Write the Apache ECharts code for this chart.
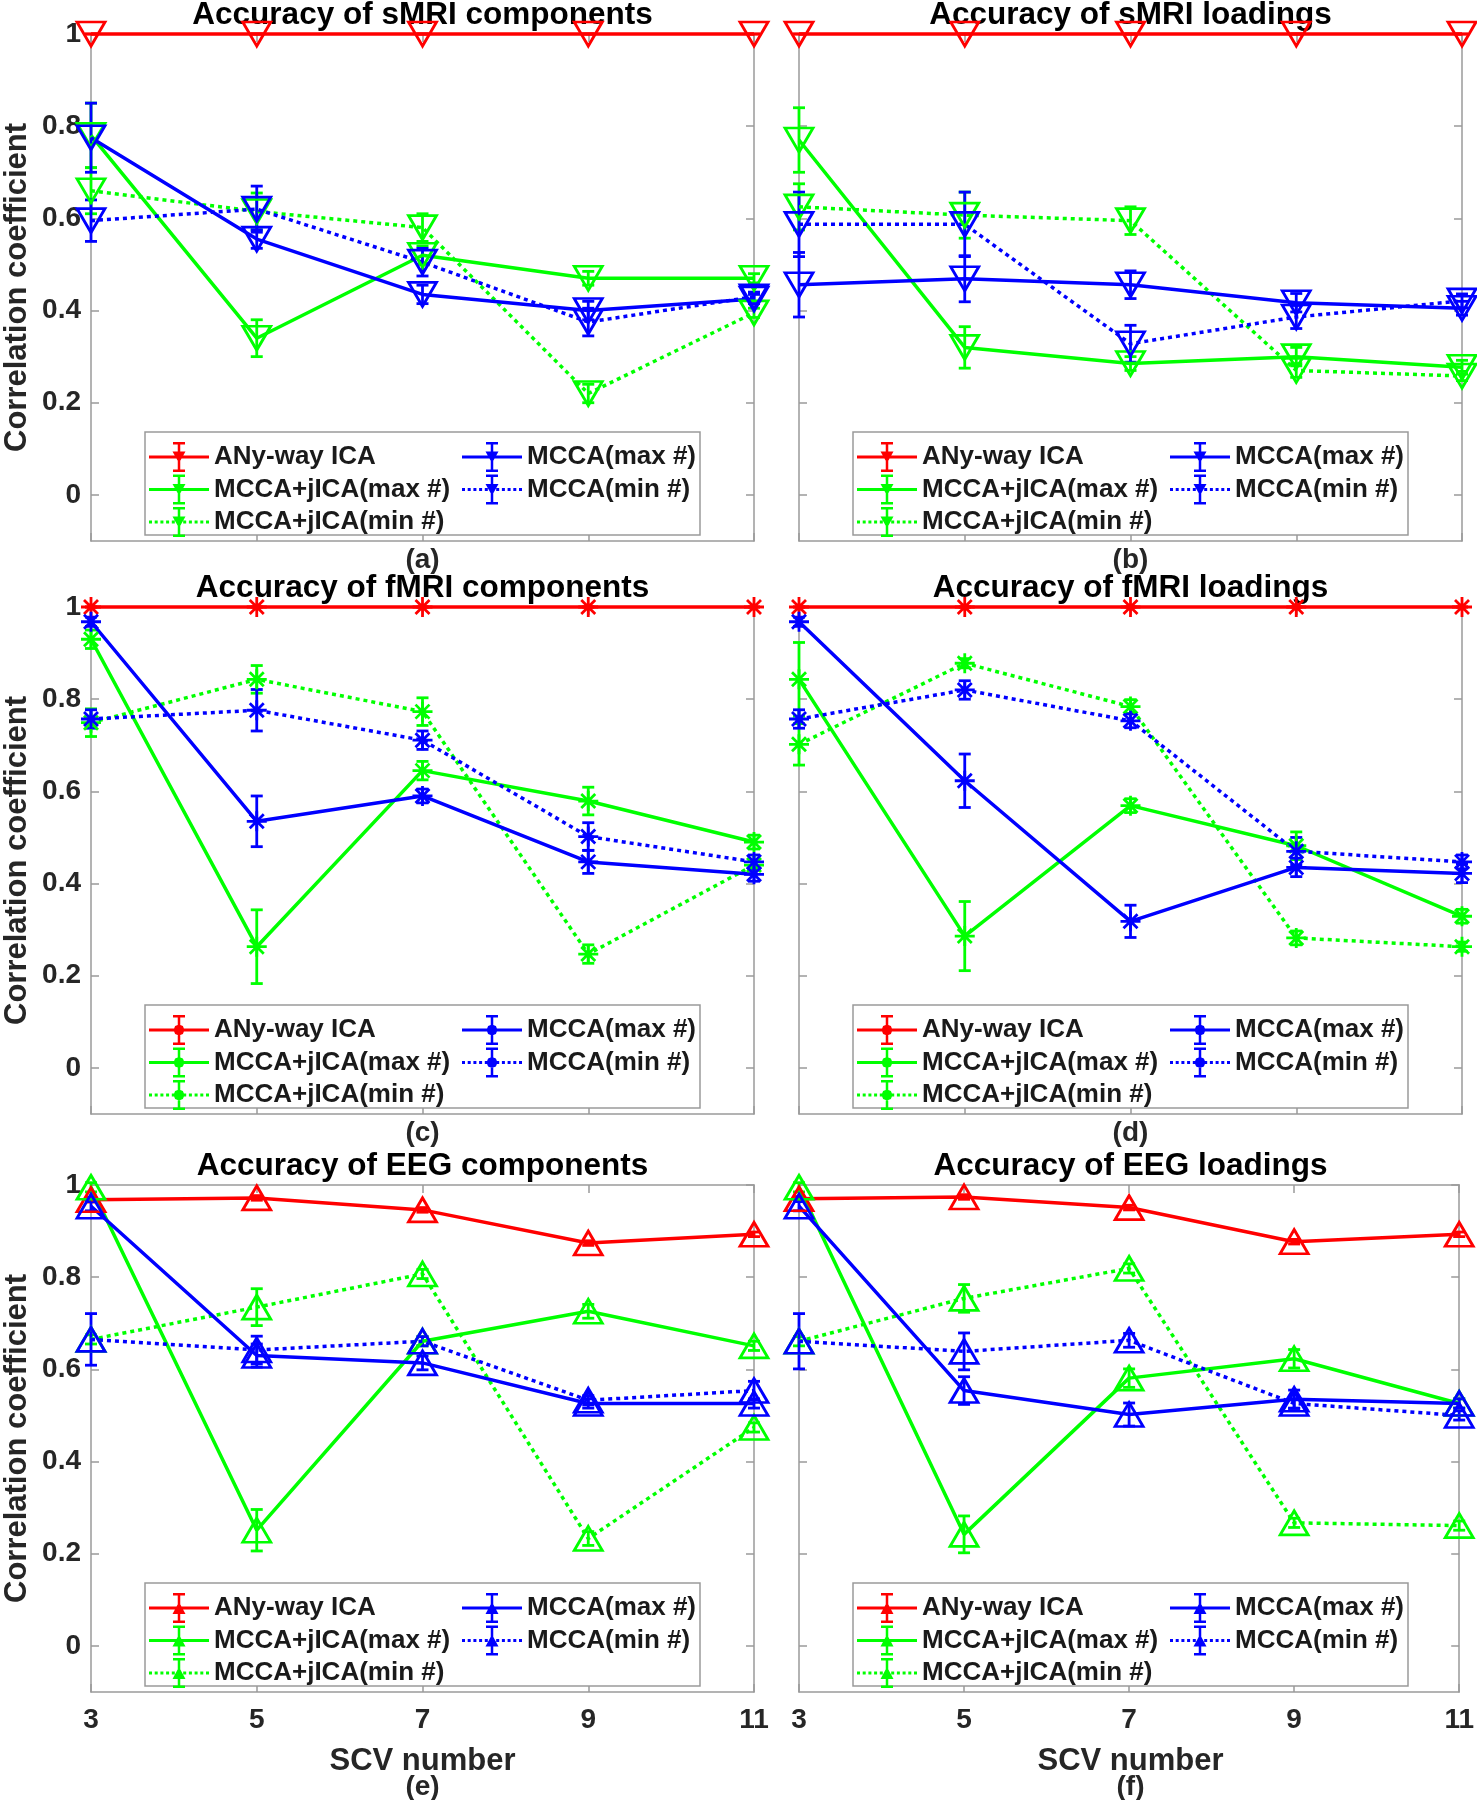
<!DOCTYPE html>
<html><head><meta charset="utf-8">
<script src="https://cdn.jsdelivr.net/npm/echarts@6/dist/echarts.min.js"></script>
<style>html,body{margin:0;padding:0;background:#fff}#c{width:1477px;height:1800px}</style>
</head><body><div id="c"></div>
<script>
// ---------- data ----------
const scv = ['3', '5', '7', '9', '11'];
const yTicks = [0, 0.2, 0.4, 0.6, 0.8, 1];
const seriesNames = ['ANy-way ICA', 'MCCA+jICA(max #)', 'MCCA+jICA(min #)', 'MCCA(max #)', 'MCCA(min #)'];
const panelTitles = ['Accuracy of sMRI components', 'Accuracy of sMRI loadings',
  'Accuracy of fMRI components', 'Accuracy of fMRI loadings',
  'Accuracy of EEG components', 'Accuracy of EEG loadings'];
const panelTags = ['(a)', '(b)', '(c)', '(d)', '(e)', '(f)'];
const xName = 'SCV number';
const yName = 'Correlation coefficient';

// (a) sMRI components
const aAny = [1, 1, 1, 1, 1];
const aAnyErr = [0, 0, 0, 0, 0];
const aJmax = [0.78, 0.34, 0.52, 0.47, 0.47];
const aJmaxErr = [0.07, 0.04, 0.02, 0.015, 0.01];
const aJmin = [0.66, 0.615, 0.58, 0.22, 0.395];
const aJminErr = [0.05, 0.04, 0.03, 0.02, 0.01];
const aMmax = [0.775, 0.555, 0.435, 0.40, 0.425];
const aMmaxErr = [0.075, 0.02, 0.02, 0.02, 0.01];
const aMmin = [0.595, 0.62, 0.505, 0.375, 0.43];
const aMminErr = [0.045, 0.05, 0.03, 0.03, 0.01];

// (b) sMRI loadings
const bAny = [1, 1, 1, 1, 1];
const bAnyErr = [0, 0, 0, 0, 0];
const bJmax = [0.77, 0.32, 0.285, 0.30, 0.277];
const bJmaxErr = [0.07, 0.045, 0.015, 0.02, 0.015];
const bJmin = [0.625, 0.607, 0.595, 0.27, 0.258];
const bJminErr = [0.05, 0.05, 0.03, 0.015, 0.01];
const bMmax = [0.456, 0.469, 0.456, 0.417, 0.405];
const bMmaxErr = [0.07, 0.05, 0.03, 0.02, 0.015];
const bMmin = [0.587, 0.587, 0.328, 0.386, 0.421];
const bMminErr = [0.07, 0.07, 0.04, 0.025, 0.015];

// (c) fMRI components
const cAny = [1, 1, 1, 1, 1];
const cAnyErr = [0, 0, 0, 0, 0];
const cJmax = [0.93, 0.263, 0.645, 0.579, 0.49];
const cJmaxErr = [0.02, 0.08, 0.02, 0.03, 0.015];
const cJmin = [0.749, 0.843, 0.773, 0.247, 0.44];
const cJminErr = [0.03, 0.03, 0.03, 0.02, 0.01];
const cMmax = [0.968, 0.535, 0.59, 0.447, 0.42];
const cMmaxErr = [0.01, 0.055, 0.015, 0.025, 0.015];
const cMmin = [0.757, 0.776, 0.711, 0.502, 0.447];
const cMminErr = [0.02, 0.045, 0.02, 0.03, 0.015];

// (d) fMRI loadings
const dAny = [1, 1, 1, 1, 1];
const dAnyErr = [0, 0, 0, 0, 0];
const dJmax = [0.843, 0.286, 0.569, 0.482, 0.329];
const dJmaxErr = [0.08, 0.075, 0.015, 0.03, 0.015];
const dJmin = [0.702, 0.878, 0.784, 0.282, 0.263];
const dJminErr = [0.045, 0.01, 0.015, 0.015, 0.01];
const dMmax = [0.968, 0.623, 0.318, 0.435, 0.422];
const dMmaxErr = [0.01, 0.058, 0.035, 0.02, 0.02];
const dMmin = [0.757, 0.82, 0.753, 0.47, 0.447];
const dMminErr = [0.02, 0.02, 0.015, 0.03, 0.015];

// (e) EEG components
const eAny = [0.968, 0.972, 0.946, 0.874, 0.893];
const eAnyErr = [0.005, 0.005, 0.005, 0.005, 0.005];
const eJmax = [0.995, 0.251, 0.661, 0.726, 0.651];
const eJmaxErr = [0.01, 0.045, 0.01, 0.015, 0.01];
const eJmin = [0.665, 0.735, 0.807, 0.233, 0.474];
const eJminErr = [0.01, 0.04, 0.01, 0.015, 0.01];
const eMmax = [0.954, 0.63, 0.614, 0.526, 0.526];
const eMmaxErr = [0.01, 0.025, 0.015, 0.01, 0.01];
const eMmin = [0.665, 0.642, 0.661, 0.533, 0.554];
const eMminErr = [0.056, 0.03, 0.01, 0.01, 0.02];

// (f) EEG loadings
const fAny = [0.97, 0.974, 0.951, 0.877, 0.893];
const fAnyErr = [0.005, 0.005, 0.005, 0.005, 0.005];
const fJmax = [0.995, 0.242, 0.581, 0.623, 0.526];
const fJmaxErr = [0.01, 0.04, 0.02, 0.02, 0.01];
const fJmin = [0.661, 0.754, 0.819, 0.267, 0.261];
const fJminErr = [0.01, 0.03, 0.01, 0.01, 0.01];
const fMmax = [0.954, 0.554, 0.502, 0.535, 0.526];
const fMmaxErr = [0.01, 0.03, 0.025, 0.02, 0.01];
const fMmin = [0.661, 0.639, 0.663, 0.526, 0.50];
const fMminErr = [0.06, 0.04, 0.015, 0.01, 0.01];

// ---------- styling / layout ----------
const FONT = '"Liberation Sans", Arial, Helvetica, sans-serif';
const colors = ['#ff0000', '#00ff00', '#00ff00', '#0000ff', '#0000ff'];
const dotted = [false, false, true, false, true];
const panelMarkers = ['down', 'down', 'star', 'star', 'up', 'up'];
const panels = [
  { vals: [aAny, aJmax, aJmin, aMmax, aMmin], errs: [aAnyErr, aJmaxErr, aJminErr, aMmaxErr, aMminErr] },
  { vals: [bAny, bJmax, bJmin, bMmax, bMmin], errs: [bAnyErr, bJmaxErr, bJminErr, bMmaxErr, bMminErr] },
  { vals: [cAny, cJmax, cJmin, cMmax, cMmin], errs: [cAnyErr, cJmaxErr, cJminErr, cMmaxErr, cMminErr] },
  { vals: [dAny, dJmax, dJmin, dMmax, dMmin], errs: [dAnyErr, dJmaxErr, dJminErr, dMmaxErr, dMminErr] },
  { vals: [eAny, eJmax, eJmin, eMmax, eMmin], errs: [eAnyErr, eJmaxErr, eJminErr, eMmaxErr, eMminErr] },
  { vals: [fAny, fJmax, fJmin, fMmax, fMmin], errs: [fAnyErr, fJmaxErr, fJminErr, fMmaxErr, fMminErr] }
];
const colLeft = [91, 799];
const rowTop = [34, 607, 1185];
const gw = 663, gh = 507;
const axisGray = '#9a9a9a';

const STAR = 'path://M10,0L10,20M0,10L20,10M3,3L17,17M17,3L3,17';

function markerOpts(m) {
  if (m === 'down') return { symbol: 'triangle', symbolRotate: 180, symbolSize: [28, 24] };
  if (m === 'up') return { symbol: 'triangle', symbolRotate: 0, symbolSize: [28, 24] };
  return { symbol: STAR, symbolRotate: 0, symbolSize: 20 };
}

function rect(x, y, w, h) {
  return `M${x},${y}L${x + w},${y}L${x + w},${y + h}L${x},${y + h}Z`;
}
function iconPath(m, isDotted) {
  let p = '';
  if (isDotted) { for (let i = 0; i <= 10; i++) p += rect(+(i * 5.7).toFixed(2), 13.5, 3, 3); }
  else p += rect(0, 13.5, 60, 3);
  p += rect(28.75, 1, 2.5, 28) + rect(24, 0, 12, 2.5) + rect(24, 27.5, 12, 2.5);
  if (m === 'down') p += 'M23.5,9.5L36.5,9.5L30,21Z';
  else if (m === 'up') p += 'M23.5,21L30,9L36.5,21Z';
  else {
    let s = '';
    for (let k = 0; k < 8; k++) {
      const a = k * Math.PI / 4;
      s += (k ? 'L' : 'M') + (30 + 5.5 * Math.cos(a)).toFixed(2) + ',' + (15 + 5.5 * Math.sin(a)).toFixed(2);
    }
    p += s + 'Z';
  }
  return 'path://' + p;
}

const grid = [], xAxis = [], yAxis = [], series = [], legend = [], graphic = [];

panels.forEach((p, i) => {
  const col = i % 2, row = Math.floor(i / 2);
  const gl = colLeft[col], gt = rowTop[row], gb = gt + gh;
  grid.push({ left: gl, top: gt, width: gw, height: gh, containLabel: false });
  const lineCommon = { show: true, onZero: false, lineStyle: { color: axisGray, width: 1.5 } };
  const tickCommon = { show: true, inside: true, length: 8, lineStyle: { color: axisGray, width: 1.5 } };
  xAxis.push({
    type: 'category', gridIndex: i, data: scv, boundaryGap: false, position: 'bottom',
    axisLine: lineCommon, axisTick: tickCommon,
    axisLabel: { show: row === 2, margin: 14, fontSize: 28, fontWeight: 'bold', fontFamily: FONT, color: '#262626' },
    splitLine: { show: false }
  });
  xAxis.push({
    type: 'category', gridIndex: i, data: scv, boundaryGap: false, position: 'top',
    axisLine: lineCommon, axisTick: tickCommon, axisLabel: { show: false }, splitLine: { show: false }
  });
  yAxis.push({
    type: 'value', gridIndex: i, min: -0.1, max: 1, position: 'left',
    axisLine: lineCommon,
    axisTick: Object.assign({ customValues: yTicks }, tickCommon),
    axisLabel: {
      show: col === 0, customValues: yTicks, margin: 10, fontSize: 28, fontWeight: 'bold', fontFamily: FONT, color: '#262626',
      formatter: v => String(+(+v).toFixed(1))
    },
    splitLine: { show: false }
  });
  yAxis.push({
    type: 'value', gridIndex: i, min: -0.1, max: 1, position: 'right',
    axisLine: lineCommon,
    axisTick: Object.assign({ customValues: yTicks }, tickCommon),
    axisLabel: { show: false, customValues: yTicks },
    splitLine: { show: false }
  });

  const mk = markerOpts(panelMarkers[i]);
  p.vals.forEach((vals, k) => {
    const c = colors[k];
    series.push(Object.assign({
      name: seriesNames[k] + '|' + i,
      type: 'line', xAxisIndex: 2 * i, yAxisIndex: 2 * i,
      data: vals,
      clip: false, showSymbol: true, showAllSymbol: true,
      lineStyle: { color: c, width: 3.5, type: dotted[k] ? [4, 4] : 'solid' },
      itemStyle: { color: 'rgba(0,0,0,0)', borderColor: c, borderWidth: 2.8 },
      emphasis: { disabled: true }, silent: true, animation: false
    }, mk));
    const errs = p.errs[k];
    series.push({
      type: 'custom', xAxisIndex: 2 * i, yAxisIndex: 2 * i, clip: false, silent: true, animation: false,
      data: vals.map((v, j) => [j, v - errs[j], v + errs[j]]),
      encode: { x: 0, y: [1, 2] },
      renderItem: (params, api) => {
        const x = api.value(0);
        const lo = api.coord([x, api.value(1)]);
        const hi = api.coord([x, api.value(2)]);
        const st = { stroke: c, lineWidth: 2.8 };
        const cw = 6;
        return {
          type: 'group', children: [
            { type: 'line', shape: { x1: lo[0], y1: lo[1], x2: hi[0], y2: hi[1] }, style: st },
            { type: 'line', shape: { x1: lo[0] - cw, y1: lo[1], x2: lo[0] + cw, y2: lo[1] }, style: st },
            { type: 'line', shape: { x1: hi[0] - cw, y1: hi[1], x2: hi[0] + cw, y2: hi[1] }, style: st }
          ]
        };
      }
    });
  });

  // legend box
  graphic.push({
    type: 'rect', z: 3, silent: true,
    shape: { x: gl + 54, y: gb - 109, width: 555, height: 103 },
    style: { fill: '#fff', stroke: axisGray, lineWidth: 1.5 }
  });
  const legItem = k => ({
    name: seriesNames[k] + '|' + i,
    icon: iconPath(panelMarkers[i], dotted[k]),
    itemStyle: { color: colors[k], borderWidth: 0, opacity: 1 }
  });
  const legCommon = {
    orient: 'vertical', top: gb - 99, itemWidth: 60, itemHeight: 30, itemGap: 2.5, padding: 0,
    selectedMode: false, symbolKeepAspect: false, z: 5,
    formatter: n => n.split('|')[0],
    textStyle: { fontSize: 26, fontWeight: 'bold', fontFamily: FONT, color: '#1a1a1a', lineHeight: 30 }
  };
  legend.push(Object.assign({ left: gl + 58, data: [legItem(0), legItem(1), legItem(2)] }, legCommon));
  legend.push(Object.assign({ left: gl + 371, data: [legItem(3), legItem(4)] }, legCommon));

  // titles and tags
  const cx = gl + gw / 2;
  graphic.push({
    type: 'text', x: cx, y: gt - 19, silent: true,
    style: { text: panelTitles[i], align: 'center', verticalAlign: 'middle', fontSize: 31.5, fontWeight: 'bold', fontFamily: FONT, fill: '#000' }
  });
  graphic.push({
    type: 'text', x: cx, y: row === 2 ? 1787 : gb + 19, silent: true,
    style: { text: panelTags[i], align: 'center', verticalAlign: 'middle', fontSize: 28, fontWeight: 'bold', fontFamily: FONT, fill: '#262626' }
  });
  if (row === 2) {
    graphic.push({
      type: 'text', x: cx, y: 1761, silent: true,
      style: { text: xName, align: 'center', verticalAlign: 'middle', fontSize: 31, fontWeight: 'bold', fontFamily: FONT, fill: '#262626' }
    });
  }
  if (col === 0) {
    graphic.push({
      type: 'text', x: 17, y: gt + gh / 2, rotation: Math.PI / 2, silent: true,
      style: { text: yName, align: 'center', verticalAlign: 'middle', fontSize: 31, fontWeight: 'bold', fontFamily: FONT, fill: '#262626' }
    });
  }
});

const chart = echarts.init(document.getElementById('c'), null, { renderer: 'canvas' });
chart.setOption({
  animation: false,
  backgroundColor: '#fff',
  grid, xAxis, yAxis, series, legend,
  graphic: { elements: graphic }
});
</script>
</body></html>
